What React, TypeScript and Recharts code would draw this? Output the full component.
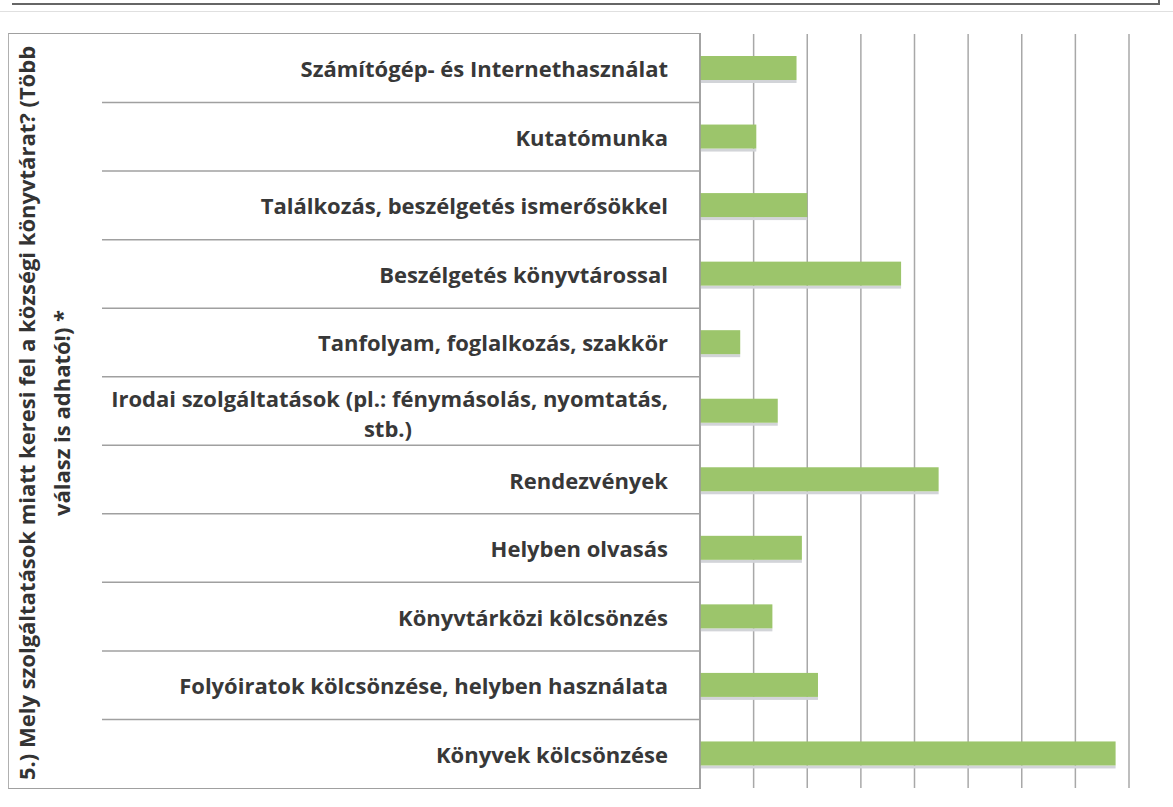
import React from 'react';
import { BarChart, Bar, XAxis, YAxis, CartesianGrid } from 'recharts';

// survey answers, top row first
const categories = [
  'Számítógép- és Internethasználat',
  'Kutatómunka',
  'Találkozás, beszélgetés ismerősökkel',
  'Beszélgetés könyvtárossal',
  'Tanfolyam, foglalkozás, szakkör',
  'Irodai szolgáltatások (pl.: fénymásolás, nyomtatás,\nstb.)',
  'Rendezvények',
  'Helyben olvasás',
  'Könyvtárközi kölcsönzés',
  'Folyóiratok kölcsönzése, helyben használata',
  'Könyvek kölcsönzése',
];
const values = [1.8, 1.05, 2.0, 3.75, 0.75, 1.45, 4.45, 1.9, 1.35, 2.2, 7.75];
const gridTicks = [0, 1, 2, 3, 4, 5, 6, 7, 8];
const titleLines = [
  '5.) Mely szolgáltatások miatt keresi fel a községi könyvtárat? (Több',
  'válasz is adható!) *',
];

const data = categories.map((name, i) => ({ name, value: values[i] }));

const FONT = '"Open Sans", "DejaVu Sans", sans-serif';

const CategoryTick = (props: any) => {
  const { x, y, payload } = props;
  const half = payload?.offset || 34;
  const lines = String(payload.value).split('\n');
  const isLast = payload.index === categories.length - 1;
  return (
    <g>
      {!isLast && (
        <line x1={102} x2={x + 32} y1={y + half} y2={y + half} stroke="#a0a0a0" strokeWidth={1.5} />
      )}
      {lines.length === 1 ? (
        <text x={x} y={y} textAnchor="end" dominantBaseline="central" fill="#383838"
          fontFamily={FONT} fontWeight={700} fontSize={22}>
          {lines[0]}
        </text>
      ) : (
        <text fill="#383838" fontFamily={FONT} fontWeight={700} fontSize={22}>
          <tspan x={x} y={y - 13} textAnchor="end" dominantBaseline="central">{lines[0]}</tspan>
          <tspan x={x - 280} y={y + 17} textAnchor="middle" dominantBaseline="central">{lines[1]}</tspan>
        </text>
      )}
    </g>
  );
};

const ShadowBar = (props: any) => {
  const { x, y, width, height, fill } = props;
  if (!width || width <= 0) return null;
  return (
    <g>
      <rect x={x} y={y + height} width={width} height={3} fill="#d2d4d8" />
      <rect x={x} y={y} width={width} height={height} fill={fill} />
    </g>
  );
};

export default function App() {
  return (
    <div style={{ position: 'absolute', left: 0, top: 0, width: 1173, height: 807, background: '#fff', overflow: 'hidden' }}>
      {/* edge of the box above */}
      <div style={{ position: 'absolute', left: 12, top: -3, width: 1146, height: 6, borderRight: '2px solid #666', borderBottom: '2px solid #666' }} />
      <div style={{ position: 'absolute', left: 0, top: 11, width: 1173, height: 0, borderTop: '1px solid #e0e0e0' }} />
      {/* label table frame */}
      <div style={{ position: 'absolute', left: 8, top: 33, width: 692, height: 754, borderLeft: '1.5px solid #b0b0b0', borderTop: '1.5px solid #a0a0a0', borderBottom: '1.5px solid #a0a0a0' }} />

      <BarChart
        width={1173}
        height={807}
        data={data}
        layout="vertical"
        margin={{ top: 34, right: 44, bottom: 19, left: 0 }}
        style={{ position: 'absolute', left: 0, top: 0 }}
      >
        <CartesianGrid horizontal={false} stroke="#a8a8a8" strokeWidth={1.5} />
        <XAxis type="number" domain={[0, 8]} ticks={gridTicks} hide />
        <YAxis
          type="category"
          dataKey="name"
          width={700}
          tickSize={0}
          tickMargin={32}
          tickLine={false}
          axisLine={{ stroke: '#9a9a9a', strokeWidth: 1.5 }}
          tick={<CategoryTick />}
          interval={0}
        />
        <Bar dataKey="value" fill="#9cc56b" barSize={24} shape={<ShadowBar />} isAnimationActive={false} />
      </BarChart>

      <svg width={100} height={807} style={{ position: 'absolute', left: 0, top: 0 }}>
        {titleLines.map((line, i) => (
          <text
            key={i}
            transform={`translate(${26 + i * 35}, 413) rotate(-90)`}
            textAnchor="middle"
            dominantBaseline="central"
            fontFamily={FONT}
            fontWeight={700}
            fontSize={22}
            fill="#333"
          >
            {line}
          </text>
        ))}
      </svg>
    </div>
  );
}
